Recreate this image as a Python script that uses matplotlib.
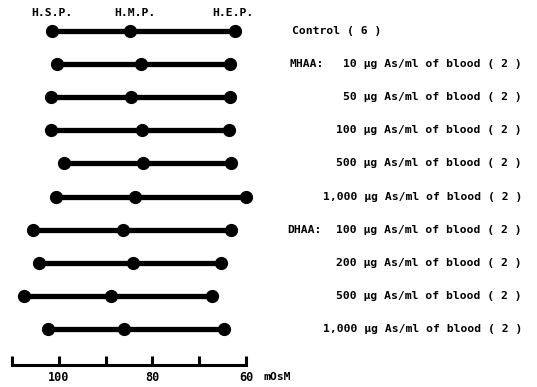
import matplotlib
matplotlib.use('Agg')
import matplotlib.pyplot as plt

# osmolality (mOsM) of haemolysis: start, mid, end
hsp = [101.5, 100.4, 101.7, 101.7, 98.9, 100.6, 105.5, 104.2, 107.4, 102.3]
hmp = [84.8, 82.4, 84.6, 82.2, 82.0, 83.7, 86.3, 84.1, 88.8, 86.1]
hep = [62.4, 63.4, 63.4, 63.6, 63.2, 60.0, 63.2, 65.3, 67.3, 64.7]
group = ['', 'MHAA:', '', '', '', '', 'DHAA:', '', '', '']
doses = ['', '10', '50', '100', '500', '1,000', '100', '200', '500', '1,000']
n = [6, 2, 2, 2, 2, 2, 2, 2, 2, 2]

W, H = 537, 387
fig = plt.figure(figsize=(W / 100, H / 100), dpi=100)
ax = fig.add_axes([12 / W, 0, 234 / W, 1])
ax.set_xlim(110, 60)
y_top = (0 - 31) / 33.1
y_bot = (H - 31) / 33.1
ax.set_ylim(y_bot, y_top)

font = dict(fontsize=8.2, fontweight='bold', family='DejaVu Sans Mono')

for i in range(len(hsp)):
    ax.plot([hsp[i], hmp[i], hep[i]], [i, i, i], color='black', lw=3.8,
            marker='o', ms=8.5, clip_on=False, solid_capstyle='round')
    if doses[i] == '':
        ax.text(50.2, i, 'Control ( %d )' % n[i], ha='left', va='center', **font)
    else:
        ax.text(1.03, i, '%s \u00b5g As/ml of blood ( %d )' % (doses[i], n[i]),
                ha='right', va='center', **font)
    if group[i]:
        gx = 50.6 if group[i] == 'MHAA:' else 51.2
        ax.text(gx, i, group[i], ha='left', va='center', **font)

for lbl, x in [('H.S.P.', 101.5), ('H.M.P.', 83.7), ('H.E.P.', 62.8)]:
    ax.text(x, (13.5 - 31) / 33.1, lbl, ha='center', va='center', **font)

# axis
for s in ['top', 'left', 'right']:
    ax.spines[s].set_visible(False)
ax.spines['bottom'].set_position(('data', (365 - 31) / 33.1))
ax.spines['bottom'].set_linewidth(2.2)
ax.set_yticks([])
ax.set_xticks([110, 100, 90, 80, 70, 60])
ax.set_xticklabels(['', '100', '', '80', '', '60'])
ax.tick_params(axis='x', direction='in', length=6.5, width=2.2, pad=4)
for t in ax.get_xticklabels():
    t.set_fontfamily('DejaVu Sans Mono')
    t.set_fontsize(8.5)
    t.set_fontweight('bold')
ax.patch.set_visible(False)
ax.text(56.3, (377 - 31) / 33.1, 'mOsM', ha='left', va='center', **font)

fig.savefig('out.png', dpi=100)
